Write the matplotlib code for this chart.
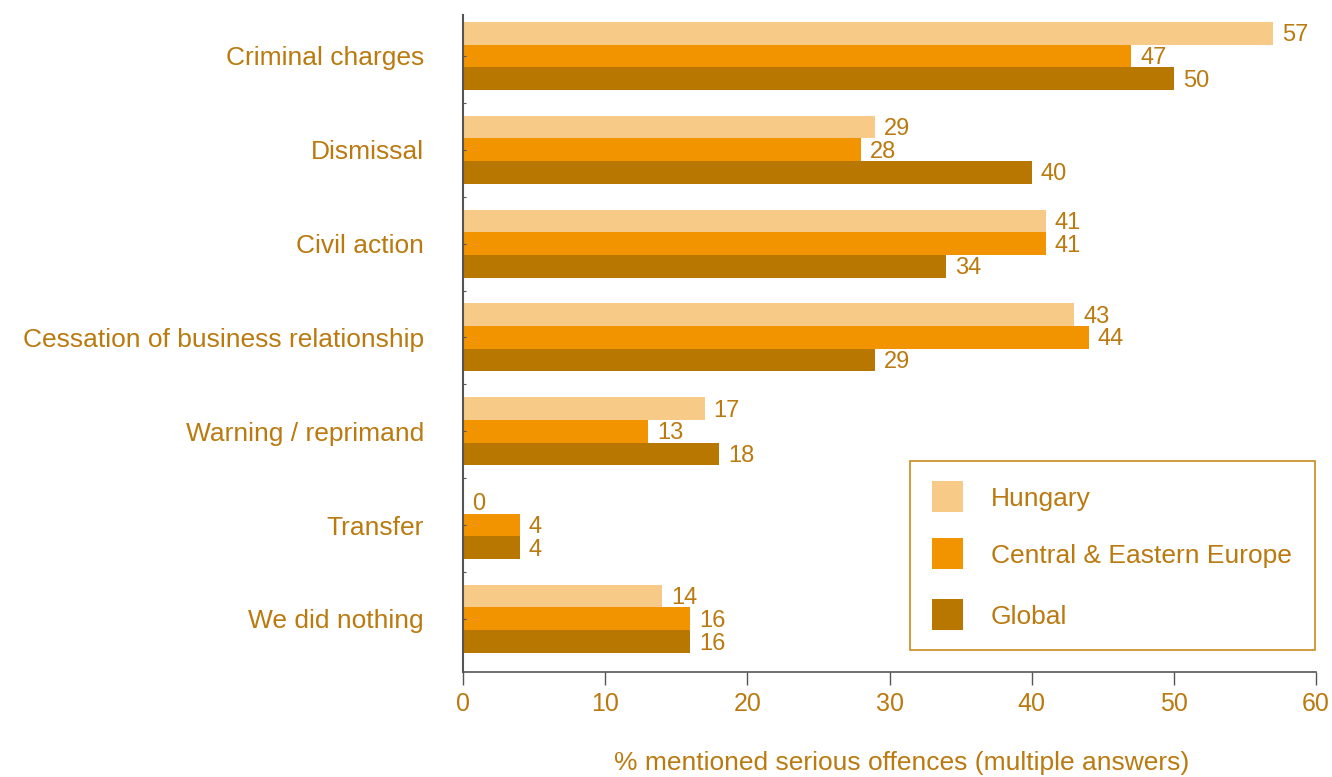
import matplotlib
matplotlib.use("Agg")
import matplotlib.pyplot as plt
import matplotlib.patches as patches
import numpy as np

plt.rcParams['font.family'] = ['Liberation Sans', 'DejaVu Sans']

# Survey data
categories = [
    "Criminal charges",
    "Dismissal",
    "Civil action",
    "Cessation of business relationship",
    "Warning / reprimand",
    "Transfer",
    "We did nothing",
]
series_names = ["Hungary", "Central & Eastern Europe", "Global"]
hungary = [57, 29, 41, 43, 17, 0, 14]
cee = [47, 28, 41, 44, 13, 4, 16]
global_ = [50, 40, 34, 29, 18, 4, 16]
x_ticks = [0, 10, 20, 30, 40, 50, 60]
x_label = "% mentioned serious offences (multiple answers)"

series_values = [hungary, cee, global_]
bar_colors = ['#F8CA87', '#F29400', '#B87700']
text_color = '#BA7A10'
axis_color = '#555555'

fig = plt.figure(figsize=(13.32, 7.77), dpi=100)
ax = fig.add_axes([0.3476, 0.1351, 0.6404, 0.8456])

bar_h = 0.242
y = np.arange(len(categories))
offsets = [-bar_h, 0.0, bar_h]

for vals, off, col in zip(series_values, offsets, bar_colors):
    bars = ax.barh(y + off, vals, height=bar_h, color=col, edgecolor='none')
    for b, v in zip(bars, vals):
        ax.annotate(str(v), xy=(v, b.get_y() + b.get_height() / 2),
                    xytext=(9, -2), textcoords='offset pixels',
                    ha='left', va='center', fontsize=17, color=text_color)

ax.set_xlim(0, 60)
ax.set_ylim(6.567, -0.437)

# Axes styling
for side in ('top', 'right'):
    ax.spines[side].set_visible(False)
ax.spines['left'].set_color(axis_color)
ax.spines['left'].set_linewidth(1.5)
ax.spines['bottom'].set_color(axis_color)
ax.spines['bottom'].set_linewidth(1.2)

ax.set_xticks(x_ticks)
ax.set_xticklabels([str(t) for t in x_ticks])
ax.tick_params(axis='x', direction='out', length=9.5, width=1.0,
               color=axis_color, labelsize=18, labelcolor=text_color, pad=5)

ax.set_yticks(y)
ax.set_yticklabels(categories)
ax.set_yticks(y[:-1] + 0.5, minor=True)
ax.tick_params(axis='y', which='both', direction='in', length=2, width=0.8,
               color=axis_color, labelsize=19, labelcolor=text_color, pad=28)

fig.text(902 / 1332, 1 - 763 / 777, x_label, ha='center', va='center',
         fontsize=19, color=text_color)

# Legend box
ax_w, ax_h = 853.0, 657.0
def ax_xy(px, py):
    return ((px - 463) / ax_w, (672 - py) / ax_h)

lx0, ly0 = ax_xy(910, 650)
lx1, ly1 = ax_xy(1315, 461)
ax.add_patch(patches.Rectangle((lx0, ly0), lx1 - lx0, ly1 - ly0,
                               transform=ax.transAxes, facecolor='white',
                               edgecolor='#C98A1E', linewidth=1.2, zorder=5))
for name, col, cy in zip(series_names, bar_colors, [496, 553, 614]):
    sx0, sy0 = ax_xy(932, cy + 15.5)
    sx1, sy1 = ax_xy(963, cy - 15.5)
    ax.add_patch(patches.Rectangle((sx0, sy0), sx1 - sx0, sy1 - sy0,
                                   transform=ax.transAxes, facecolor=col,
                                   edgecolor='none', zorder=6))
    tx, ty = ax_xy(991, cy + 3)
    ax.text(tx, ty, name, transform=ax.transAxes, ha='left', va='center',
            fontsize=19, color=text_color, zorder=6)

fig.savefig('out.png', dpi=100, facecolor='white')
